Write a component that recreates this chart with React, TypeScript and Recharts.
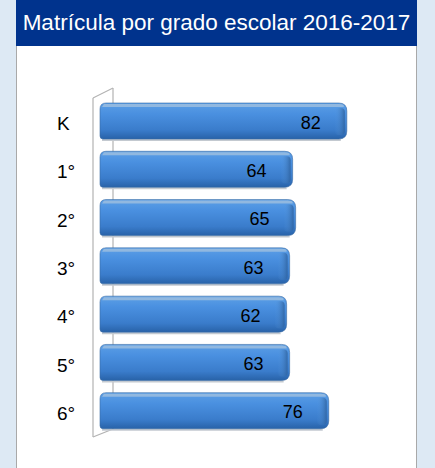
import React from 'react';
import { BarChart, Bar, XAxis, YAxis, LabelList, usePlotArea } from 'recharts';

const grades = ['K', '1°', '2°', '3°', '4°', '5°', '6°'];
const enrollment = [82, 64, 65, 63, 62, 63, 76];

const data = grades.map((g, i) => ({ grade: g, value: enrollment[i] }));

const BarShape = (props: any) => {
  const { x, y, width, height } = props;
  if (!width || width <= 0) return null;
  const r = 8;
  const path = `M${x},${y + 6} Q${x},${y} ${x + 6},${y} L${x + width - r},${y} Q${x + width},${y} ${x + width},${y + r} L${x + width},${y + height - r} Q${x + width},${y + height} ${x + width - r},${y + height} L${x + 3},${y + height} Q${x},${y + height} ${x},${y + height - 3} Z`;
  return (
    <g>
      <path d={`M${x + 2},${y + height + 1} L${x + width - r + 2},${y + height + 1}`} stroke="#c3c9d0" strokeWidth={2} />
      <path d={path} fill="url(#barGrad)" stroke="#3a6ca4" strokeWidth={0.6} />
      <path
        d={`M${x + 4},${y + 1} L${x + width - r},${y + 1} Q${x + width - 2},${y + 1} ${x + width - 3},${y + 4} L${x + 2},${y + 4} Z`}
        fill="#a9c4de"
        opacity={0.7}
      />
      <rect x={x + width - 12} y={y + 5} width={10} height={height - 9} rx={4} fill="url(#capGrad)" opacity={0.8} />
    </g>
  );
};

// left 3D wall of the chart
const Wall = () => {
  const area = usePlotArea();
  if (!area) return null;
  const left = area.x - 7;
  const top = area.y + 1;
  const bottom = area.y + area.height + 2;
  return (
    <g stroke="#b3b3b3" strokeWidth={1.2} fill="none">
      <line x1={left} y1={top} x2={left} y2={bottom} />
      <line x1={left + 20} y1={top - 10} x2={left + 20} y2={bottom - 8} />
      <line x1={left} y1={top} x2={left + 20} y2={top - 10} />
      <line x1={left} y1={bottom} x2={left + 20} y2={bottom - 8} />
    </g>
  );
};

const CatTick = (props: any) => {
  const { y, payload } = props;
  return (
    <text x={40} y={y + 4} textAnchor="start" dominantBaseline="middle" fontSize={19} fill="#000" fontFamily="Liberation Sans, Arial, sans-serif">
      {payload.value}
    </text>
  );
};

const ValueLabel = (props: any) => {
  const { x, y, width, height, value } = props;
  return (
    <text x={x + width - 26} y={y + height / 2 + 3} textAnchor="end" dominantBaseline="middle" fontSize={18} fill="#000" fontFamily="Liberation Sans, Arial, sans-serif">
      {value}
    </text>
  );
};

export default function App() {
  return (
    <div style={{ position: 'absolute', left: 0, top: 0, width: 435, height: 468, background: '#dde9f4', overflow: 'hidden' }}>
      <div style={{ position: 'absolute', left: 16, top: 0, width: 399, height: 468, background: '#fff', borderLeft: '1px solid #a9a9a9', borderRight: '1px solid #a9a9a9' }} />
      <div
        style={{
          position: 'absolute', left: 16, top: 0, width: 401, height: 46, background: '#00338d', color: '#fff',
          fontFamily: 'Liberation Sans, Arial, sans-serif', fontSize: 22.5, lineHeight: '46px', textAlign: 'center',
        }}
      >
        Matrícula por grado escolar 2016-2017
      </div>
      <div style={{ position: 'absolute', left: 17, top: 46 }}>
        <BarChart width={399} height={422} data={data} layout="vertical" margin={{ top: 51, right: 15, bottom: 33, left: 0 }} barSize={36}>
          <defs>
            <linearGradient id="barGrad" x1="0" y1="0" x2="0" y2="1">
              <stop offset="0%" stopColor="#5c9fe6" />
              <stop offset="30%" stopColor="#4a90e0" />
              <stop offset="75%" stopColor="#3a7ccb" />
              <stop offset="100%" stopColor="#2862a8" />
            </linearGradient>
            <linearGradient id="capGrad" x1="0" y1="0" x2="1" y2="0">
              <stop offset="0%" stopColor="#5b9be0" stopOpacity={0} />
              <stop offset="100%" stopColor="#2d609c" />
            </linearGradient>
          </defs>
          <XAxis type="number" domain={[0, 100]} hide />
          <YAxis type="category" dataKey="grade" width={83} axisLine={false} tickLine={false} tick={<CatTick />} />
          <Wall />
          <Bar dataKey="value" shape={<BarShape />} isAnimationActive={false}>
            <LabelList dataKey="value" content={<ValueLabel />} />
          </Bar>
        </BarChart>
      </div>
    </div>
  );
}
